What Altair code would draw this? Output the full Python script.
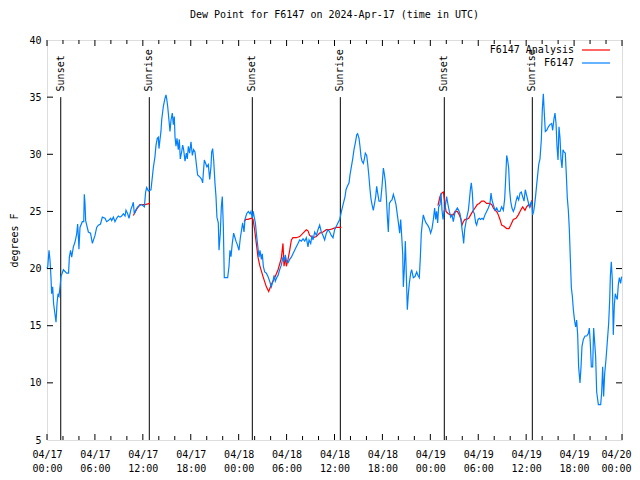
import altair as alt
import pandas as pd

# ---------------- data ----------------
blue_hours = [0.0, 0.1, 0.25, 0.38, 0.5, 0.58, 0.71, 0.83, 1.0, 1.13, 1.25, 1.38, 1.5, 1.63, 1.75, 2.05, 2.46, 2.7, 2.8, 2.95,
              3.09, 3.3, 3.5, 3.71, 3.84, 3.95, 4.0, 4.13, 4.42, 4.6, 4.67, 4.76, 4.84, 5.18, 5.45, 5.68, 6.01, 6.22, 6.43, 6.7,
              6.93, 7.26, 7.47, 7.68, 7.97, 8.1, 8.31, 8.51, 8.72, 8.93, 9.14, 9.35, 9.56, 9.77, 9.89, 10.1, 10.27, 10.52, 10.68, 10.81,
              10.93, 11.1, 11.35, 11.56, 11.85, 12.19, 12.35, 12.48, 12.69, 13.02,
              13.31, 13.52, 13.65, 13.81, 13.94, 14.02, 14.15, 14.27, 14.36, 14.57, 14.77, 14.9, 14.98, 15.11, 15.27, 15.4, 15.53, 15.69,
              15.82, 15.94, 16.03, 16.15, 16.28, 16.44, 16.57, 16.69, 16.86, 16.99, 17.11, 17.28, 17.45, 17.57, 17.7, 17.86, 18.03, 18.2,
              18.36, 18.53, 18.74, 18.86, 19.16, 19.37, 19.49, 19.57, 19.7, 19.87, 20.03, 20.2, 20.37, 20.53, 20.62, 20.74, 20.87, 21.03,
              21.16, 21.28, 21.45, 21.54, 21.7, 21.83, 21.95, 22.08, 22.2, 22.62, 22.79, 22.91, 23.04, 23.2, 23.37, 23.54, 23.66, 23.83,
              24.04, 24.21, 24.37, 24.5, 24.67, 24.79, 25.0, 25.21, 25.42, 25.54, 25.71, 25.83,
              25.92, 26.09, 26.26, 26.42, 26.55, 26.67, 26.84, 26.96, 27.09, 27.26, 27.47, 27.67, 27.88, 28.09, 28.3, 28.43, 28.59, 28.76,
              28.93, 29.13, 29.34, 29.55, 29.68, 29.84, 30.01, 30.18, 30.39, 30.6, 30.8, 31.01, 31.22, 31.43, 31.64, 31.85, 32.06, 32.27,
              32.47, 32.68, 32.81, 33.02, 33.18, 33.31, 33.52, 33.73, 33.93, 34.14, 34.35, 34.56, 34.77, 34.98, 35.19, 35.4, 35.6, 35.81,
              36.02, 36.23, 36.44, 36.65,
              36.9, 37.11, 37.32, 37.44, 37.61, 37.82, 37.94, 38.11, 38.28, 38.44, 38.61, 38.78, 38.9, 39.07, 39.19, 39.32, 39.44, 39.61,
              39.74, 39.86, 40.03, 40.15, 40.28, 40.45, 40.57, 40.7, 40.86, 40.99, 41.16, 41.28, 41.41, 41.57, 41.78, 41.95, 42.12, 42.24,
              42.37, 42.49, 42.62, 42.74, 42.87, 43.03, 43.2, 43.37, 43.53, 43.7, 43.87, 44.04, 44.16, 44.29, 44.41, 44.54, 44.62, 44.74,
              44.87, 45.0, 45.12, 45.25, 45.37, 45.54, 45.66, 45.87, 46.08, 46.29, 46.46, 46.62, 46.75, 46.87, 47.0, 47.12, 47.29, 47.46,
              47.67, 47.88, 48.04, 48.21, 48.38, 48.54, 48.67, 48.79, 48.92, 49.04,
              49.21, 49.34, 49.46, 49.59, 49.71, 49.84, 50.04, 50.21, 50.38, 50.55, 50.71, 50.88, 51.05, 51.21, 51.38, 51.55, 51.71, 51.84,
              51.96, 52.09, 52.17, 52.3, 52.47, 52.63, 52.76, 52.88, 53.01, 53.13, 53.26, 53.38, 53.51, 53.68, 53.8, 53.97, 54.13, 54.3,
              54.47, 54.64, 54.84, 55.05, 55.26, 55.47, 55.6, 55.72, 55.89, 56.1, 56.31, 56.51, 56.72, 56.93, 57.14, 57.31, 57.43, 57.56,
              57.68, 57.81, 57.93, 58.06, 58.22, 58.39, 58.56, 58.73, 58.89, 59.06, 59.23, 59.39, 59.56, 59.73, 59.89, 60.06, 60.23, 60.4,
              60.56,
              60.69, 60.81, 60.94, 61.06, 61.19, 61.31, 61.44, 61.57, 61.73, 61.9, 62.02, 62.15, 62.27, 62.4, 62.57, 62.78, 62.98, 63.19,
              63.32, 63.48, 63.61, 63.74, 63.86, 63.99, 64.11, 64.24, 64.36, 64.49, 64.61, 64.74, 64.9, 65.03, 65.15, 65.28, 65.4, 65.53,
              65.66, 65.78, 65.91, 66.07, 66.2, 66.32, 66.45, 66.57, 66.74, 66.87, 66.99, 67.16, 67.37, 67.58, 67.78, 67.91, 68.03, 68.16,
              68.33, 68.45, 68.58, 68.7, 68.83, 69.04, 69.33, 69.45, 69.58, 69.7, 69.83, 69.99, 70.16, 70.33, 70.46, 70.54, 70.66, 70.79,
              70.91, 71.04, 71.16, 71.29, 71.41, 71.54, 71.67, 71.83, 71.95]
blue_dew = [20.0, 20.2, 21.6, 20.7, 19.2, 17.8, 18.4, 16.9, 16.0, 15.3, 16.9, 17.8, 17.6, 18.4, 19.3, 19.9, 19.6, 19.6, 21.0, 21.6,
            21.0, 21.9, 22.3, 23.0, 23.9, 22.5, 21.7, 23.6, 24.1, 24.1, 26.5, 25.7, 24.2, 23.2, 23.1, 22.2, 22.9, 23.6, 23.8, 23.9,
            24.5, 24.4, 24.1, 24.2, 24.4, 24.2, 24.5, 24.1, 24.4, 24.6, 24.5, 24.6, 24.8, 24.6, 25.1, 24.8, 24.4, 25.2, 25.5, 25.8,
            24.8, 25.1, 25.4, 25.5, 25.6, 25.4, 26.7, 27.1, 26.8, 26.9,
            28.8, 29.8, 30.8, 31.4, 31.5, 30.5, 31.3, 32.0, 33.0, 34.2, 34.9, 35.2, 34.9, 34.2, 33.0, 32.0, 33.0, 33.6,
            32.6, 33.3, 31.5, 30.7, 31.4, 30.4, 31.3, 29.6, 30.2, 30.8, 30.4, 29.4, 30.1, 29.6, 30.7, 30.1, 31.1, 29.9,
            30.4, 30.2, 28.9, 28.2, 28.0, 27.8, 27.5, 28.3, 29.5, 29.2, 28.9, 29.1, 27.8, 28.9, 30.2, 30.5, 29.5, 27.5,
            26.3, 24.5, 24.0, 21.6, 23.1, 25.4, 26.3, 23.7, 19.2, 19.2, 20.2, 21.6, 21.05, 22.2, 23.1, 22.7, 22.4, 22.1,
            21.6, 22.7, 23.4, 24.0, 23.2, 24.3, 24.8, 25.0, 24.8, 25.0, 24.4, 25.0,
            24.6, 24.0, 22.8, 21.8, 21.0, 21.6, 20.8, 21.3, 20.2, 19.7, 19.6, 19.3, 18.9, 18.4, 18.9, 19.4, 18.9, 19.2,
            19.4, 19.9, 20.3, 21.0, 20.6, 21.2, 20.6, 20.5, 20.8, 21.0, 21.3, 21.6, 21.9, 22.2, 22.5, 22.4, 22.6, 22.4,
            22.7, 21.9, 22.5, 22.2, 22.9, 22.5, 23.2, 22.9, 23.4, 23.8, 23.2, 22.9, 22.5, 23.1, 23.4, 23.2, 22.9, 22.7,
            23.4, 23.7, 24.0, 24.3,
            25.1, 25.7, 26.3, 26.9, 27.2, 27.5, 28.2, 28.9, 29.6, 30.4, 31.0, 31.7, 31.8, 31.4, 30.7, 29.8, 29.4, 29.2,
            29.6, 30.1, 29.9, 29.2, 28.3, 26.9, 26.1, 25.6, 25.1, 25.6, 26.3, 27.2, 26.6, 25.9, 25.9, 27.2, 28.8, 28.3,
            27.6, 26.3, 24.5, 23.2, 25.7, 25.9, 26.0, 26.5, 26.1, 25.6, 24.7, 23.8, 23.1, 24.3, 22.9, 21.3, 18.4, 19.9,
            22.4, 19.3, 16.4, 17.8, 18.7, 19.6, 19.9, 19.2, 19.3, 19.7, 19.4, 19.2, 21.0, 23.1, 24.0, 24.7, 24.3, 24.0,
            23.8, 23.5, 23.1, 23.5, 24.3, 25.3, 24.3, 25.0, 24.0, 25.4,
            25.6, 26.6, 25.1, 24.3, 25.0, 25.3, 26.3, 25.6, 25.0, 24.5, 24.7, 24.1, 24.8, 25.1, 25.3, 25.1, 24.8, 24.3,
            23.5, 22.8, 22.2, 23.4, 24.1, 24.7, 25.1, 25.9, 26.9, 27.5, 26.6, 25.0, 24.8, 24.0, 23.8, 24.3, 24.4, 24.3,
            24.4, 24.3, 24.7, 25.0, 25.3, 25.7, 26.6, 26.0, 25.6, 25.1, 25.3, 25.0, 25.0, 25.4, 25.1, 26.1, 27.8, 29.9,
            29.5, 28.8, 26.9, 25.9, 25.3, 25.0, 25.3, 25.9, 26.3, 26.0, 26.6, 26.7, 26.3, 25.9, 26.9, 26.4, 25.9, 25.4,
            25.7,
            25.9, 24.7, 25.0, 25.6, 26.4, 27.3, 28.2, 29.1, 29.6, 31.3, 33.9, 35.3, 33.6, 32.0, 32.1, 32.4, 32.6, 32.7,
            32.1, 33.1, 33.6, 32.7, 30.7, 29.5, 32.4, 31.4, 29.6, 28.8, 30.4, 30.2, 30.1, 28.2, 26.2, 25.1, 23.5, 20.9,
            18.3, 17.6, 16.4, 15.4, 14.9, 15.5, 14.2, 11.4, 10.0, 11.4, 13.2, 13.8, 14.1, 14.1, 14.3, 14.8, 13.5, 11.4,
            11.4, 14.8, 13.5, 12.3, 9.2, 8.1, 8.1, 9.1, 11.4, 8.8, 10.8, 12.0, 13.6, 15.2, 17.3, 19.3, 20.6, 19.0,
            14.2, 16.8, 17.8, 17.5, 17.3, 18.6, 19.2, 18.7, 19.3]

# analysis series: three separate runs
red_a_hours = [10.81, 11.02, 11.23, 11.64, 12.27, 12.9]
red_a_dew = [24.65, 24.9, 25.2, 25.6, 25.6, 25.7]
red_b_hours = [24.67, 24.9, 25.17, 25.59, 25.8, 26.0, 26.21, 26.42, 26.63, 27.05, 27.47, 27.76, 28.09, 28.51, 28.93, 29.34,
               29.55, 29.68, 29.84, 29.97, 30.18, 30.39, 30.6, 30.8, 31.22, 31.64, 32.06, 32.47, 32.68, 32.89, 33.31, 33.73,
               34.14, 34.56, 34.98, 35.4, 35.81, 36.23, 36.86]
red_b_dew = [24.1, 24.3, 24.3, 24.4, 24.3, 23.4, 22.2, 21.0, 20.3, 19.3, 18.4, 18.0, 18.6, 19.2, 19.9, 20.9,
             22.2, 20.2, 21.0, 20.2, 20.8, 21.6, 22.5, 22.7, 22.7, 22.8, 23.1, 23.4, 23.3, 22.9, 22.7, 22.8,
             23.1, 23.2, 23.4, 23.4, 23.5, 23.6, 23.6]
red_c_hours = [48.95, 49.21, 49.42, 49.63, 49.75, 49.96, 50.25, 50.55, 50.88, 51.09, 51.38, 51.63, 51.84, 51.96, 52.13, 52.34,
               52.55, 52.8, 53.05, 53.3, 53.59, 53.88, 54.13, 54.43, 54.72, 55.05, 55.39, 55.68, 55.89, 56.1, 56.31, 56.51,
               56.72, 56.93, 57.22, 57.56, 57.85, 58.06, 58.39, 58.73, 59.02, 59.31, 59.56, 59.85, 60.06, 60.31, 60.48, 60.69, 60.81]
red_c_dew = [25.5, 26.3, 26.6, 26.7, 26.1, 25.0, 24.8, 24.7, 24.7, 25.0, 25.0, 24.7, 24.3, 23.8, 24.1, 24.3,
             24.3, 24.4, 24.7, 25.0, 25.3, 25.6, 25.7, 25.9, 25.9, 25.7, 25.7, 25.6, 25.3, 25.1, 25.0, 24.7,
             24.3, 23.8, 23.7, 23.5, 23.5, 23.8, 24.3, 24.4, 24.7, 25.1, 25.4, 25.1, 25.4, 25.6, 25.4, 25.9, 26.0]

event_hours = [1.72, 12.81, 25.71, 36.73, 49.75, 60.77]
event_labels = ["Sunset", "Sunrise", "Sunset", "Sunrise", "Sunset", "Sunrise"]

x_label_hours = list(range(0, 73, 6))
x_minor_hours = [h for h in range(0, 73, 2) if h % 6 != 0]
y_tick_values = [5, 10, 15, 20, 25, 30, 35, 40]
y_inner_ticks = [10, 15, 20, 25, 30, 35]

series_names = ["F6147 Analysis", "F6147"]
series_colors = ["#ff0000", "#0080ff"]

title_text = "Dew Point for F6147 on 2024-Apr-17 (time in UTC)"
FONT = "DejaVu Sans Mono"

# ---------------- helpers ----------------
BASE = pd.Timestamp("2024-04-17 00:00:00", tz="UTC")


def ts(h):
    return (BASE + pd.Timedelta(hours=h)).strftime("%Y-%m-%dT%H:%M:%SZ")


def ms(h):
    return int((BASE + pd.Timedelta(hours=h)).timestamp() * 1000)


blue_df = pd.DataFrame({"t": [ts(h) for h in blue_hours], "v": blue_dew})
red_rows = []
for seg, (hs, vs) in enumerate([(red_a_hours, red_a_dew), (red_b_hours, red_b_dew), (red_c_hours, red_c_dew)]):
    for h, v in zip(hs, vs):
        red_rows.append({"t": ts(h), "v": v, "seg": seg})
red_df = pd.DataFrame(red_rows)

event_df = pd.DataFrame({"t": [ts(h) for h in event_hours], "v": [35.0] * len(event_hours),
                         "v2": [5.0] * len(event_hours)})
event_label_df = pd.DataFrame({"t": [ts(h) for h in event_hours], "v": [35.5] * len(event_hours),
                               "label": event_labels})

major_df = pd.DataFrame({"t": [ts(h) for h in x_label_hours]})
minor_df = pd.DataFrame({"t": [ts(h) for h in x_minor_hours]})
ytick_df = pd.DataFrame({"v": y_inner_ticks})

W, H = 575, 400
last_ms = ms(72)

x_enc = alt.X(
    "t:T",
    scale=alt.Scale(type="utc", domain=[ms(0), ms(72)]),
    axis=alt.Axis(
        values=[ms(h) for h in x_label_hours],
        labelExpr="[utcFormat(datum.value, '%m/%d'), utcFormat(datum.value, '%H:%M')]",
        labelFont=FONT, labelFontSize=10, labelColor="black", labelLineHeight=14,
        labelPadding=9, ticks=False, tickSize=0, domain=False, grid=False,
        labelAngle=0, labelAlign="center", labelFlush=False, labelOverlap=False,
        labelOffset={"condition": {"test": f"datum.value >= {last_ms}", "value": -6}, "value": 0},
    ),
    title=None,
)
y_enc = alt.Y(
    "v:Q",
    scale=alt.Scale(domain=[5, 40], nice=False, zero=False),
    axis=alt.Axis(
        values=y_tick_values, labelFont=FONT, labelFontSize=10, labelColor="black",
        labelPadding=6, ticks=False, tickSize=0, domain=False, grid=False, labelFlush=False,
        title="degrees F", titleFont=FONT, titleFontSize=10, titleFontWeight="normal", titleColor="black",
        titleAngle=270, titleX=-33, titleY=200, titleAlign="center", titleBaseline="middle",
    ),
)

events_rule = alt.Chart(event_df).mark_rule(color="black", strokeWidth=1).encode(
    x=x_enc, y=y_enc, y2=alt.Y2("v2:Q"))
events_text = alt.Chart(event_label_df).mark_text(
    font=FONT, fontSize=10, angle=270, align="left", baseline="middle", color="black"
).encode(x=x_enc, y=y_enc, text="label:N")

red_line = alt.Chart(red_df).mark_line(color=series_colors[0], strokeWidth=1.2).encode(
    x=x_enc, y=y_enc, detail="seg:N")
blue_line = alt.Chart(blue_df).mark_line(color=series_colors[1], strokeWidth=1.2).encode(
    x=x_enc, y=y_enc)

# inward ticks (gnuplot style)
major_bottom = alt.Chart(major_df).mark_rule(color="black").encode(x=x_enc, y=alt.value(H), y2=alt.value(H - 6))
major_top = alt.Chart(major_df).mark_rule(color="black").encode(x=x_enc, y=alt.value(0), y2=alt.value(6))
minor_bottom = alt.Chart(minor_df).mark_rule(color="black").encode(x=x_enc, y=alt.value(H), y2=alt.value(H - 4))
minor_top = alt.Chart(minor_df).mark_rule(color="black").encode(x=x_enc, y=alt.value(0), y2=alt.value(4))
ytick_left = alt.Chart(ytick_df).mark_rule(color="black").encode(y=y_enc, x=alt.value(0), x2=alt.value(6))
ytick_right = alt.Chart(ytick_df).mark_rule(color="black").encode(y=y_enc, x=alt.value(W), x2=alt.value(W - 6))

# legend (gnuplot style: label left, sample right)
leg_df = pd.DataFrame({"label": series_names})
leg_text_a = alt.Chart(leg_df.iloc[[0]]).mark_text(
    font=FONT, fontSize=10, align="right", baseline="middle", color="black"
).encode(x=alt.value(527), y=alt.value(10), text="label:N")
leg_text_b = alt.Chart(leg_df.iloc[[1]]).mark_text(
    font=FONT, fontSize=10, align="right", baseline="middle", color="black"
).encode(x=alt.value(527), y=alt.value(23), text="label:N")
leg_line_a = alt.Chart(leg_df.iloc[[0]]).mark_rule(color=series_colors[0], strokeWidth=1.2).encode(
    x=alt.value(535), x2=alt.value(563), y=alt.value(10))
leg_line_b = alt.Chart(leg_df.iloc[[1]]).mark_rule(color=series_colors[1], strokeWidth=1.2).encode(
    x=alt.value(535), x2=alt.value(563), y=alt.value(23))

chart = alt.layer(
    events_rule, events_text, red_line, blue_line,
    major_bottom, major_top, minor_bottom, minor_top, ytick_left, ytick_right,
    leg_text_a, leg_text_b, leg_line_a, leg_line_b,
).properties(
    width=W, height=H,
    title=alt.TitleParams(title_text, font=FONT, fontSize=10, fontWeight="normal", color="black",
                          anchor="middle", offset=15),
    autosize=alt.AutoSizeParams(type="none"),
    padding={"left": 39, "top": 32, "right": 10, "bottom": 32},
).configure_view(stroke="black", strokeWidth=1).configure(background="white")

chart.save("out.html", embed_options={"renderer": "svg", "actions": False})
